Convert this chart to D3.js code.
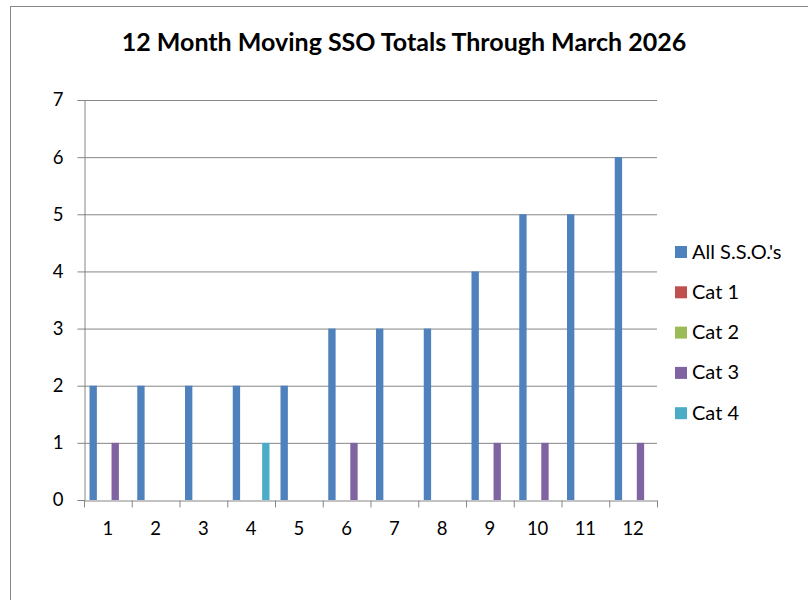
<meta charset="utf-8">
<script src="https://d3js.org/d3.v7.min.js"></script>
<body style="margin:0">
<div id="chart"></div>
<script>
var months = ["1","2","3","4","5","6","7","8","9","10","11","12"]
var seriesNames = ["All S.S.O.'s", "Cat 1", "Cat 2", "Cat 3", "Cat 4"]
var allSSO = [2, 2, 2, 2, 2, 3, 3, 3, 4, 5, 5, 6]
var cat1 = [0, 0, 0, 0, 0, 0, 0, 0, 0, 0, 0, 0]
var cat2 = [0, 0, 0, 0, 0, 0, 0, 0, 0, 0, 0, 0]
var cat3 = [1, 0, 0, 0, 0, 1, 0, 0, 1, 1, 0, 1]
var cat4 = [0, 0, 0, 1, 0, 0, 0, 0, 0, 0, 0, 0]
var yTicks = [0, 1, 2, 3, 4, 5, 6, 7]
var colors = ["#4F81BD", "#C0504D", "#9BBB59", "#8064A2", "#4BACC6"]

var values = [allSSO, cat1, cat2, cat3, cat4]
var width = 808, height = 600
var font = "Lato, sans-serif"

var svg = d3.select("#chart").append("svg")
  .attr("width", width)
  .attr("height", height)
  .style("font-family", font)

// chart area border
svg.append("rect")
  .attr("x", 10.5).attr("y", 6.5)
  .attr("width", 900).attr("height", 700)
  .attr("fill", "white")
  .attr("stroke", "#868686")

svg.append("text")
  .attr("x", 404).attr("y", 51)
  .attr("text-anchor", "middle")
  .attr("font-weight", "bold")
  .attr("font-size", "25px")
  .text("12 Month Moving SSO Totals Through March 2026")

var x0 = d3.scaleBand().domain(months).range([84, 657]).paddingInner(0).paddingOuter(0)
var x1 = d3.scaleBand().domain(d3.range(5)).range([0, x0.bandwidth()]).paddingOuter(0.75).paddingInner(0)
var y = d3.scaleLinear().domain([0, 7]).range([500, 100])

// gridlines
svg.append("g").selectAll("line")
  .data(yTicks.slice(1))
  .enter().append("line")
    .attr("x1", 84).attr("x2", 657)
    .attr("y1", d => y(d) + 0.5).attr("y2", d => y(d) + 0.5)
    .attr("stroke", "#868686")

// bars
var groups = svg.append("g").selectAll("g")
  .data(months)
  .enter().append("g")
    .attr("transform", d => "translate(" + x0(d) + ",0)")

groups.selectAll("rect")
  .data((m, i) => values.map((s, k) => ({k: k, v: s[i]})))
  .enter().append("rect")
    .filter(d => d.v > 0)
    .attr("x", d => x1(d.k))
    .attr("width", x1.bandwidth())
    .attr("y", d => y(d.v))
    .attr("height", d => y(0) - y(d.v))
    .attr("fill", d => colors[d.k])

// y axis
var yAxis = svg.append("g")
  .attr("transform", "translate(84.5,0)")
  .call(d3.axisLeft(y).tickValues(yTicks).tickSize(7).tickPadding(14).tickFormat(d3.format("d")))
yAxis.select(".domain").attr("stroke", "#868686")
yAxis.selectAll("line").attr("stroke", "#868686")
yAxis.selectAll("text").attr("font-size", "18.5px").attr("font-family", font).attr("fill", "#000")

// x axis
var xAxis = svg.append("g")
  .attr("transform", "translate(0,500.5)")
  .call(d3.axisBottom(x0).tickSize(0).tickPadding(21))
xAxis.select(".domain").attr("stroke", "#868686")
xAxis.selectAll("text").attr("font-size", "18.5px").attr("font-family", font).attr("fill", "#000")
xAxis.selectAll(".sep")
  .data(months.concat(["end"]))
  .enter().append("line")
    .attr("x1", (d, i) => 84 + i * x0.bandwidth() + 0.5)
    .attr("x2", (d, i) => 84 + i * x0.bandwidth() + 0.5)
    .attr("y1", 0).attr("y2", 7)
    .attr("stroke", "#868686")

// legend
var legend = svg.append("g").selectAll("g")
  .data(seriesNames)
  .enter().append("g")
    .attr("transform", (d, i) => "translate(675," + (246 + i * 40.3) + ")")
legend.append("rect")
  .attr("width", 12).attr("height", 12)
  .attr("fill", (d, i) => colors[i])
legend.append("text")
  .attr("x", 17).attr("y", 12.5)
  .attr("font-size", "20px")
  .text(d => d)
</script>
</body>
